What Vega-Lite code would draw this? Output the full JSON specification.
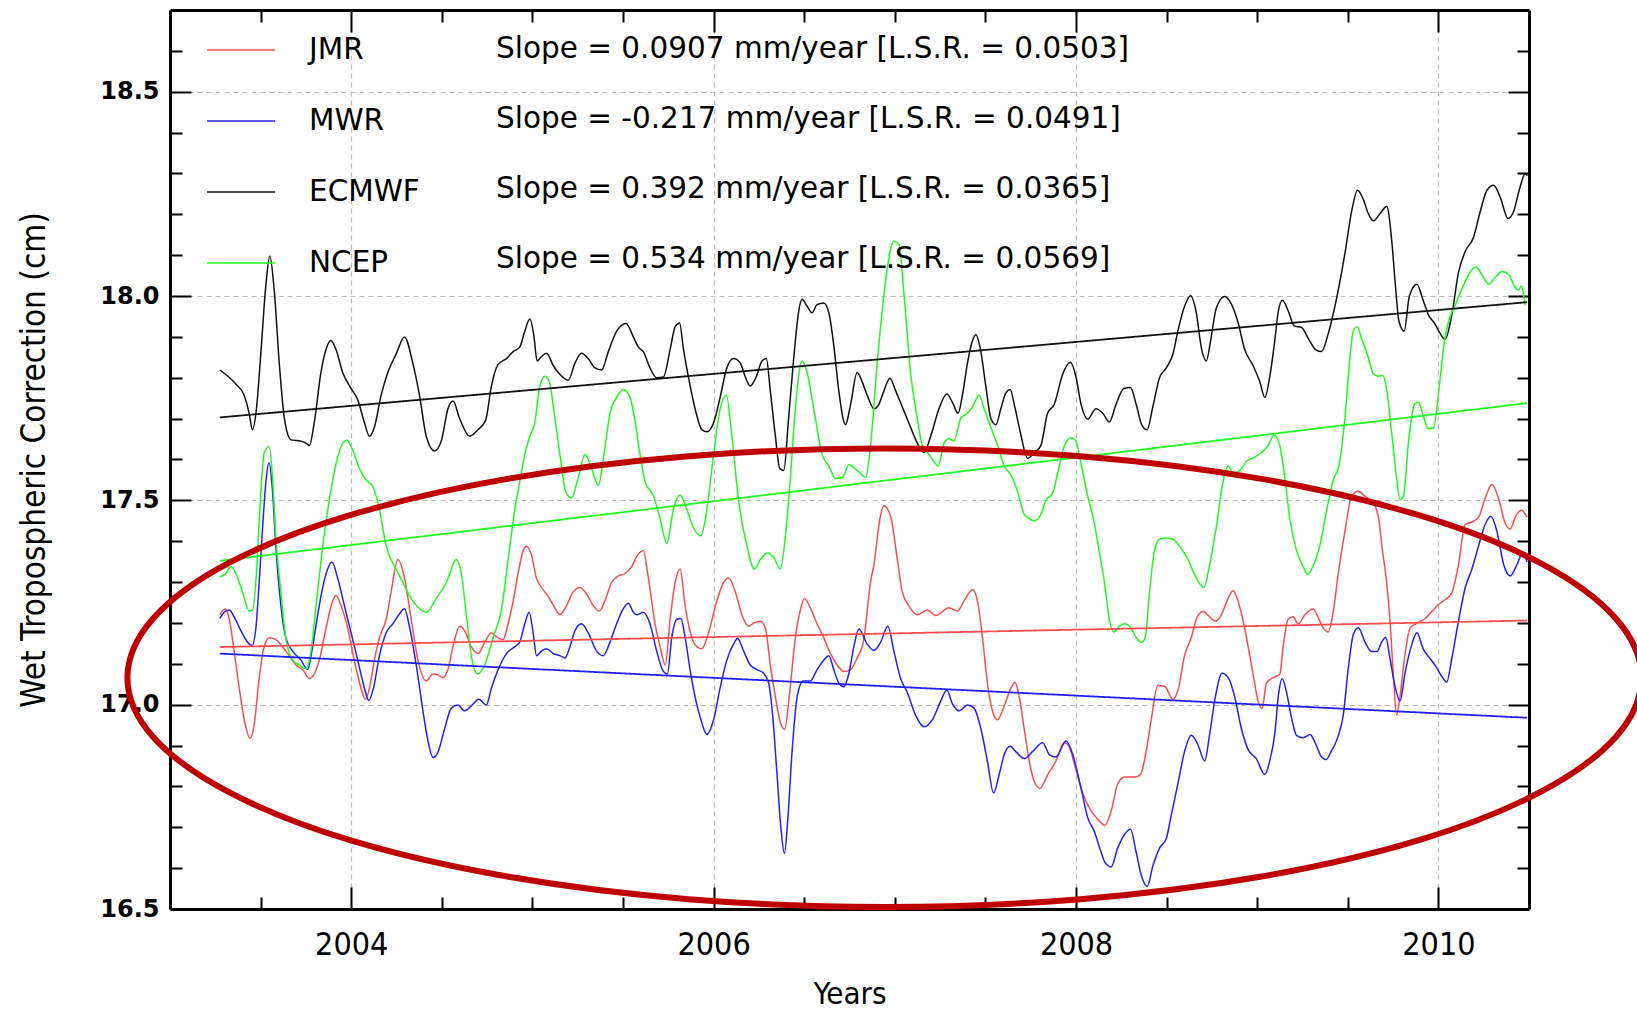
{
  "$schema": "https://vega.github.io/schema/vega-lite/v6.json",
  "width": 1359,
  "height": 899,
  "autosize": {"type": "none"},
  "padding": {"left": 170, "top": 10, "right": 108, "bottom": 100},
  "background": "white",
  "config": {
    "view": {"stroke": null},
    "font": "DejaVu Sans"
  },
  "datasets": {
    "series": [
      {"s":"JMR","t":2003.275,"v":17.220},{"s":"JMR","t":2003.305,"v":17.234},{"s":"JMR","t":2003.327,"v":17.209},{"s":"JMR","t":2003.354,"v":17.131},{"s":"JMR","t":2003.382,"v":17.041},{"s":"JMR","t":2003.415,"v":16.952},{"s":"JMR","t":2003.441,"v":16.918},{"s":"JMR","t":2003.465,"v":16.952},{"s":"JMR","t":2003.489,"v":17.053},{"s":"JMR","t":2003.514,"v":17.131},{"s":"JMR","t":2003.547,"v":17.164},{"s":"JMR","t":2003.584,"v":17.159},{"s":"JMR","t":2003.621,"v":17.142},{"s":"JMR","t":2003.658,"v":17.120},{"s":"JMR","t":2003.695,"v":17.097},{"s":"JMR","t":2003.732,"v":17.086},{"s":"JMR","t":2003.769,"v":17.064},{"s":"JMR","t":2003.796,"v":17.075},{"s":"JMR","t":2003.824,"v":17.109},{"s":"JMR","t":2003.861,"v":17.187},{"s":"JMR","t":2003.898,"v":17.254},{"s":"JMR","t":2003.916,"v":17.267},{"s":"JMR","t":2003.944,"v":17.242},{"s":"JMR","t":2003.981,"v":17.187},{"s":"JMR","t":2004.017,"v":17.109},{"s":"JMR","t":2004.054,"v":17.041},{"s":"JMR","t":2004.078,"v":17.013},{"s":"JMR","t":2004.101,"v":17.041},{"s":"JMR","t":2004.128,"v":17.109},{"s":"JMR","t":2004.156,"v":17.164},{"s":"JMR","t":2004.193,"v":17.209},{"s":"JMR","t":2004.220,"v":17.276},{"s":"JMR","t":2004.258,"v":17.355},{"s":"JMR","t":2004.294,"v":17.310},{"s":"JMR","t":2004.331,"v":17.209},{"s":"JMR","t":2004.368,"v":17.109},{"s":"JMR","t":2004.414,"v":17.058},{"s":"JMR","t":2004.451,"v":17.075},{"s":"JMR","t":2004.479,"v":17.073},{"s":"JMR","t":2004.506,"v":17.066},{"s":"JMR","t":2004.534,"v":17.086},{"s":"JMR","t":2004.562,"v":17.142},{"s":"JMR","t":2004.598,"v":17.192},{"s":"JMR","t":2004.626,"v":17.181},{"s":"JMR","t":2004.663,"v":17.142},{"s":"JMR","t":2004.700,"v":17.125},{"s":"JMR","t":2004.737,"v":17.153},{"s":"JMR","t":2004.774,"v":17.176},{"s":"JMR","t":2004.810,"v":17.164},{"s":"JMR","t":2004.838,"v":17.159},{"s":"JMR","t":2004.866,"v":17.198},{"s":"JMR","t":2004.894,"v":17.254},{"s":"JMR","t":2004.921,"v":17.321},{"s":"JMR","t":2004.949,"v":17.377},{"s":"JMR","t":2004.967,"v":17.388},{"s":"JMR","t":2004.995,"v":17.366},{"s":"JMR","t":2005.022,"v":17.310},{"s":"JMR","t":2005.050,"v":17.287},{"s":"JMR","t":2005.087,"v":17.265},{"s":"JMR","t":2005.124,"v":17.237},{"s":"JMR","t":2005.152,"v":17.220},{"s":"JMR","t":2005.188,"v":17.242},{"s":"JMR","t":2005.225,"v":17.276},{"s":"JMR","t":2005.262,"v":17.287},{"s":"JMR","t":2005.299,"v":17.271},{"s":"JMR","t":2005.336,"v":17.242},{"s":"JMR","t":2005.369,"v":17.229},{"s":"JMR","t":2005.400,"v":17.254},{"s":"JMR","t":2005.437,"v":17.299},{"s":"JMR","t":2005.474,"v":17.315},{"s":"JMR","t":2005.511,"v":17.321},{"s":"JMR","t":2005.548,"v":17.338},{"s":"JMR","t":2005.580,"v":17.366},{"s":"JMR","t":2005.612,"v":17.377},{"s":"JMR","t":2005.640,"v":17.310},{"s":"JMR","t":2005.677,"v":17.198},{"s":"JMR","t":2005.705,"v":17.142},{"s":"JMR","t":2005.733,"v":17.097},{"s":"JMR","t":2005.760,"v":17.209},{"s":"JMR","t":2005.788,"v":17.299},{"s":"JMR","t":2005.815,"v":17.332},{"s":"JMR","t":2005.843,"v":17.242},{"s":"JMR","t":2005.880,"v":17.164},{"s":"JMR","t":2005.907,"v":17.142},{"s":"JMR","t":2005.935,"v":17.137},{"s":"JMR","t":2005.972,"v":17.176},{"s":"JMR","t":2006.018,"v":17.254},{"s":"JMR","t":2006.055,"v":17.299},{"s":"JMR","t":2006.083,"v":17.310},{"s":"JMR","t":2006.120,"v":17.276},{"s":"JMR","t":2006.156,"v":17.220},{"s":"JMR","t":2006.193,"v":17.192},{"s":"JMR","t":2006.221,"v":17.200},{"s":"JMR","t":2006.258,"v":17.204},{"s":"JMR","t":2006.286,"v":17.187},{"s":"JMR","t":2006.313,"v":17.097},{"s":"JMR","t":2006.341,"v":17.019},{"s":"JMR","t":2006.368,"v":16.957},{"s":"JMR","t":2006.392,"v":16.940},{"s":"JMR","t":2006.420,"v":17.030},{"s":"JMR","t":2006.451,"v":17.164},{"s":"JMR","t":2006.479,"v":17.232},{"s":"JMR","t":2006.501,"v":17.260},{"s":"JMR","t":2006.534,"v":17.237},{"s":"JMR","t":2006.571,"v":17.198},{"s":"JMR","t":2006.608,"v":17.164},{"s":"JMR","t":2006.645,"v":17.125},{"s":"JMR","t":2006.682,"v":17.097},{"s":"JMR","t":2006.719,"v":17.081},{"s":"JMR","t":2006.756,"v":17.086},{"s":"JMR","t":2006.792,"v":17.114},{"s":"JMR","t":2006.829,"v":17.160},{"s":"JMR","t":2006.866,"v":17.300},{"s":"JMR","t":2006.885,"v":17.343},{"s":"JMR","t":2006.918,"v":17.455},{"s":"JMR","t":2006.940,"v":17.487},{"s":"JMR","t":2006.977,"v":17.461},{"s":"JMR","t":2007.014,"v":17.355},{"s":"JMR","t":2007.041,"v":17.276},{"s":"JMR","t":2007.078,"v":17.242},{"s":"JMR","t":2007.124,"v":17.220},{"s":"JMR","t":2007.180,"v":17.232},{"s":"JMR","t":2007.226,"v":17.218},{"s":"JMR","t":2007.299,"v":17.237},{"s":"JMR","t":2007.346,"v":17.229},{"s":"JMR","t":2007.382,"v":17.254},{"s":"JMR","t":2007.429,"v":17.282},{"s":"JMR","t":2007.456,"v":17.254},{"s":"JMR","t":2007.484,"v":17.164},{"s":"JMR","t":2007.511,"v":17.053},{"s":"JMR","t":2007.539,"v":16.985},{"s":"JMR","t":2007.567,"v":16.963},{"s":"JMR","t":2007.604,"v":16.997},{"s":"JMR","t":2007.641,"v":17.041},{"s":"JMR","t":2007.663,"v":17.055},{"s":"JMR","t":2007.687,"v":17.019},{"s":"JMR","t":2007.714,"v":16.941},{"s":"JMR","t":2007.742,"v":16.862},{"s":"JMR","t":2007.770,"v":16.811},{"s":"JMR","t":2007.801,"v":16.795},{"s":"JMR","t":2007.843,"v":16.828},{"s":"JMR","t":2007.889,"v":16.862},{"s":"JMR","t":2007.936,"v":16.907},{"s":"JMR","t":2007.963,"v":16.896},{"s":"JMR","t":2008.000,"v":16.840},{"s":"JMR","t":2008.037,"v":16.784},{"s":"JMR","t":2008.083,"v":16.740},{"s":"JMR","t":2008.120,"v":16.720},{"s":"JMR","t":2008.160,"v":16.705},{"s":"JMR","t":2008.194,"v":16.740},{"s":"JMR","t":2008.230,"v":16.806},{"s":"JMR","t":2008.267,"v":16.823},{"s":"JMR","t":2008.323,"v":16.823},{"s":"JMR","t":2008.356,"v":16.829},{"s":"JMR","t":2008.387,"v":16.885},{"s":"JMR","t":2008.415,"v":16.963},{"s":"JMR","t":2008.452,"v":17.047},{"s":"JMR","t":2008.489,"v":17.045},{"s":"JMR","t":2008.535,"v":17.013},{"s":"JMR","t":2008.566,"v":17.041},{"s":"JMR","t":2008.599,"v":17.120},{"s":"JMR","t":2008.636,"v":17.164},{"s":"JMR","t":2008.669,"v":17.215},{"s":"JMR","t":2008.701,"v":17.228},{"s":"JMR","t":2008.738,"v":17.215},{"s":"JMR","t":2008.769,"v":17.204},{"s":"JMR","t":2008.802,"v":17.220},{"s":"JMR","t":2008.839,"v":17.260},{"s":"JMR","t":2008.867,"v":17.279},{"s":"JMR","t":2008.894,"v":17.254},{"s":"JMR","t":2008.931,"v":17.187},{"s":"JMR","t":2008.959,"v":17.120},{"s":"JMR","t":2008.986,"v":17.053},{"s":"JMR","t":2009.005,"v":17.008},{"s":"JMR","t":2009.027,"v":16.991},{"s":"JMR","t":2009.051,"v":17.053},{"s":"JMR","t":2009.088,"v":17.066},{"s":"JMR","t":2009.125,"v":17.075},{"s":"JMR","t":2009.143,"v":17.142},{"s":"JMR","t":2009.171,"v":17.209},{"s":"JMR","t":2009.198,"v":17.215},{"s":"JMR","t":2009.226,"v":17.198},{"s":"JMR","t":2009.263,"v":17.220},{"s":"JMR","t":2009.309,"v":17.234},{"s":"JMR","t":2009.337,"v":17.213},{"s":"JMR","t":2009.364,"v":17.188},{"s":"JMR","t":2009.392,"v":17.178},{"s":"JMR","t":2009.420,"v":17.228},{"s":"JMR","t":2009.447,"v":17.320},{"s":"JMR","t":2009.484,"v":17.424},{"s":"JMR","t":2009.521,"v":17.510},{"s":"JMR","t":2009.558,"v":17.522},{"s":"JMR","t":2009.595,"v":17.510},{"s":"JMR","t":2009.641,"v":17.493},{"s":"JMR","t":2009.669,"v":17.459},{"s":"JMR","t":2009.691,"v":17.378},{"s":"JMR","t":2009.715,"v":17.297},{"s":"JMR","t":2009.733,"v":17.205},{"s":"JMR","t":2009.752,"v":17.067},{"s":"JMR","t":2009.770,"v":16.975},{"s":"JMR","t":2009.788,"v":17.021},{"s":"JMR","t":2009.816,"v":17.124},{"s":"JMR","t":2009.844,"v":17.188},{"s":"JMR","t":2009.881,"v":17.199},{"s":"JMR","t":2009.927,"v":17.211},{"s":"JMR","t":2009.964,"v":17.228},{"s":"JMR","t":2010.000,"v":17.245},{"s":"JMR","t":2010.037,"v":17.257},{"s":"JMR","t":2010.074,"v":17.274},{"s":"JMR","t":2010.111,"v":17.343},{"s":"JMR","t":2010.148,"v":17.441},{"s":"JMR","t":2010.185,"v":17.447},{"s":"JMR","t":2010.222,"v":17.459},{"s":"JMR","t":2010.258,"v":17.505},{"s":"JMR","t":2010.295,"v":17.539},{"s":"JMR","t":2010.332,"v":17.505},{"s":"JMR","t":2010.366,"v":17.447},{"s":"JMR","t":2010.397,"v":17.430},{"s":"JMR","t":2010.424,"v":17.459},{"s":"JMR","t":2010.458,"v":17.476},{"s":"JMR","t":2010.489,"v":17.459},
      {"s":"MWR","t":2003.275,"v":17.211},{"s":"MWR","t":2003.299,"v":17.226},{"s":"MWR","t":2003.327,"v":17.232},{"s":"MWR","t":2003.354,"v":17.215},{"s":"MWR","t":2003.391,"v":17.181},{"s":"MWR","t":2003.428,"v":17.153},{"s":"MWR","t":2003.452,"v":17.144},{"s":"MWR","t":2003.474,"v":17.187},{"s":"MWR","t":2003.492,"v":17.299},{"s":"MWR","t":2003.511,"v":17.433},{"s":"MWR","t":2003.529,"v":17.545},{"s":"MWR","t":2003.547,"v":17.592},{"s":"MWR","t":2003.566,"v":17.522},{"s":"MWR","t":2003.584,"v":17.388},{"s":"MWR","t":2003.612,"v":17.243},{"s":"MWR","t":2003.639,"v":17.164},{"s":"MWR","t":2003.677,"v":17.131},{"s":"MWR","t":2003.723,"v":17.109},{"s":"MWR","t":2003.759,"v":17.086},{"s":"MWR","t":2003.787,"v":17.142},{"s":"MWR","t":2003.815,"v":17.220},{"s":"MWR","t":2003.843,"v":17.287},{"s":"MWR","t":2003.870,"v":17.332},{"s":"MWR","t":2003.894,"v":17.349},{"s":"MWR","t":2003.925,"v":17.310},{"s":"MWR","t":2003.962,"v":17.243},{"s":"MWR","t":2003.999,"v":17.176},{"s":"MWR","t":2004.036,"v":17.109},{"s":"MWR","t":2004.073,"v":17.041},{"s":"MWR","t":2004.097,"v":17.010},{"s":"MWR","t":2004.123,"v":17.041},{"s":"MWR","t":2004.156,"v":17.120},{"s":"MWR","t":2004.193,"v":17.176},{"s":"MWR","t":2004.230,"v":17.198},{"s":"MWR","t":2004.263,"v":17.220},{"s":"MWR","t":2004.294,"v":17.235},{"s":"MWR","t":2004.322,"v":17.190},{"s":"MWR","t":2004.359,"v":17.097},{"s":"MWR","t":2004.396,"v":16.985},{"s":"MWR","t":2004.423,"v":16.913},{"s":"MWR","t":2004.451,"v":16.871},{"s":"MWR","t":2004.479,"v":16.884},{"s":"MWR","t":2004.515,"v":16.940},{"s":"MWR","t":2004.552,"v":16.991},{"s":"MWR","t":2004.589,"v":16.999},{"s":"MWR","t":2004.626,"v":16.985},{"s":"MWR","t":2004.663,"v":16.997},{"s":"MWR","t":2004.705,"v":17.013},{"s":"MWR","t":2004.746,"v":16.999},{"s":"MWR","t":2004.774,"v":17.041},{"s":"MWR","t":2004.811,"v":17.086},{"s":"MWR","t":2004.857,"v":17.125},{"s":"MWR","t":2004.903,"v":17.142},{"s":"MWR","t":2004.930,"v":17.153},{"s":"MWR","t":2004.958,"v":17.198},{"s":"MWR","t":2004.982,"v":17.226},{"s":"MWR","t":2005.004,"v":17.176},{"s":"MWR","t":2005.023,"v":17.120},{"s":"MWR","t":2005.050,"v":17.131},{"s":"MWR","t":2005.078,"v":17.137},{"s":"MWR","t":2005.115,"v":17.125},{"s":"MWR","t":2005.152,"v":17.120},{"s":"MWR","t":2005.179,"v":17.114},{"s":"MWR","t":2005.207,"v":17.142},{"s":"MWR","t":2005.235,"v":17.181},{"s":"MWR","t":2005.271,"v":17.198},{"s":"MWR","t":2005.308,"v":17.176},{"s":"MWR","t":2005.354,"v":17.131},{"s":"MWR","t":2005.391,"v":17.120},{"s":"MWR","t":2005.428,"v":17.153},{"s":"MWR","t":2005.465,"v":17.198},{"s":"MWR","t":2005.498,"v":17.232},{"s":"MWR","t":2005.530,"v":17.248},{"s":"MWR","t":2005.557,"v":17.226},{"s":"MWR","t":2005.576,"v":17.220},{"s":"MWR","t":2005.612,"v":17.226},{"s":"MWR","t":2005.649,"v":17.198},{"s":"MWR","t":2005.686,"v":17.131},{"s":"MWR","t":2005.723,"v":17.081},{"s":"MWR","t":2005.745,"v":17.075},{"s":"MWR","t":2005.769,"v":17.164},{"s":"MWR","t":2005.797,"v":17.209},{"s":"MWR","t":2005.819,"v":17.211},{"s":"MWR","t":2005.843,"v":17.164},{"s":"MWR","t":2005.870,"v":17.086},{"s":"MWR","t":2005.898,"v":17.019},{"s":"MWR","t":2005.930,"v":16.963},{"s":"MWR","t":2005.963,"v":16.927},{"s":"MWR","t":2006.000,"v":16.963},{"s":"MWR","t":2006.036,"v":17.041},{"s":"MWR","t":2006.073,"v":17.109},{"s":"MWR","t":2006.110,"v":17.148},{"s":"MWR","t":2006.132,"v":17.162},{"s":"MWR","t":2006.166,"v":17.131},{"s":"MWR","t":2006.202,"v":17.097},{"s":"MWR","t":2006.239,"v":17.086},{"s":"MWR","t":2006.276,"v":17.077},{"s":"MWR","t":2006.304,"v":17.053},{"s":"MWR","t":2006.328,"v":16.963},{"s":"MWR","t":2006.350,"v":16.829},{"s":"MWR","t":2006.372,"v":16.695},{"s":"MWR","t":2006.391,"v":16.636},{"s":"MWR","t":2006.409,"v":16.717},{"s":"MWR","t":2006.433,"v":16.885},{"s":"MWR","t":2006.461,"v":17.019},{"s":"MWR","t":2006.494,"v":17.058},{"s":"MWR","t":2006.534,"v":17.058},{"s":"MWR","t":2006.571,"v":17.086},{"s":"MWR","t":2006.608,"v":17.109},{"s":"MWR","t":2006.636,"v":17.120},{"s":"MWR","t":2006.663,"v":17.086},{"s":"MWR","t":2006.691,"v":17.053},{"s":"MWR","t":2006.719,"v":17.044},{"s":"MWR","t":2006.746,"v":17.075},{"s":"MWR","t":2006.774,"v":17.142},{"s":"MWR","t":2006.802,"v":17.185},{"s":"MWR","t":2006.848,"v":17.148},{"s":"MWR","t":2006.885,"v":17.133},{"s":"MWR","t":2006.922,"v":17.153},{"s":"MWR","t":2006.962,"v":17.192},{"s":"MWR","t":2006.995,"v":17.131},{"s":"MWR","t":2007.032,"v":17.064},{"s":"MWR","t":2007.069,"v":17.030},{"s":"MWR","t":2007.115,"v":16.974},{"s":"MWR","t":2007.161,"v":16.946},{"s":"MWR","t":2007.207,"v":16.963},{"s":"MWR","t":2007.253,"v":17.008},{"s":"MWR","t":2007.287,"v":17.036},{"s":"MWR","t":2007.318,"v":17.002},{"s":"MWR","t":2007.355,"v":16.985},{"s":"MWR","t":2007.401,"v":16.999},{"s":"MWR","t":2007.438,"v":16.991},{"s":"MWR","t":2007.475,"v":16.941},{"s":"MWR","t":2007.511,"v":16.862},{"s":"MWR","t":2007.545,"v":16.784},{"s":"MWR","t":2007.576,"v":16.829},{"s":"MWR","t":2007.604,"v":16.878},{"s":"MWR","t":2007.637,"v":16.898},{"s":"MWR","t":2007.668,"v":16.885},{"s":"MWR","t":2007.714,"v":16.868},{"s":"MWR","t":2007.760,"v":16.885},{"s":"MWR","t":2007.816,"v":16.907},{"s":"MWR","t":2007.853,"v":16.878},{"s":"MWR","t":2007.889,"v":16.872},{"s":"MWR","t":2007.945,"v":16.911},{"s":"MWR","t":2007.982,"v":16.878},{"s":"MWR","t":2008.028,"v":16.795},{"s":"MWR","t":2008.065,"v":16.723},{"s":"MWR","t":2008.101,"v":16.690},{"s":"MWR","t":2008.138,"v":16.640},{"s":"MWR","t":2008.160,"v":16.614},{"s":"MWR","t":2008.194,"v":16.603},{"s":"MWR","t":2008.230,"v":16.649},{"s":"MWR","t":2008.267,"v":16.682},{"s":"MWR","t":2008.301,"v":16.695},{"s":"MWR","t":2008.332,"v":16.639},{"s":"MWR","t":2008.360,"v":16.583},{"s":"MWR","t":2008.393,"v":16.555},{"s":"MWR","t":2008.424,"v":16.605},{"s":"MWR","t":2008.461,"v":16.649},{"s":"MWR","t":2008.498,"v":16.672},{"s":"MWR","t":2008.525,"v":16.728},{"s":"MWR","t":2008.562,"v":16.806},{"s":"MWR","t":2008.599,"v":16.885},{"s":"MWR","t":2008.636,"v":16.925},{"s":"MWR","t":2008.673,"v":16.902},{"s":"MWR","t":2008.710,"v":16.862},{"s":"MWR","t":2008.738,"v":16.929},{"s":"MWR","t":2008.769,"v":17.019},{"s":"MWR","t":2008.806,"v":17.077},{"s":"MWR","t":2008.843,"v":17.064},{"s":"MWR","t":2008.876,"v":17.019},{"s":"MWR","t":2008.913,"v":16.941},{"s":"MWR","t":2008.950,"v":16.890},{"s":"MWR","t":2008.995,"v":16.868},{"s":"MWR","t":2009.042,"v":16.829},{"s":"MWR","t":2009.069,"v":16.862},{"s":"MWR","t":2009.097,"v":16.929},{"s":"MWR","t":2009.119,"v":17.030},{"s":"MWR","t":2009.138,"v":17.064},{"s":"MWR","t":2009.162,"v":17.030},{"s":"MWR","t":2009.189,"v":16.969},{"s":"MWR","t":2009.217,"v":16.925},{"s":"MWR","t":2009.254,"v":16.919},{"s":"MWR","t":2009.291,"v":16.927},{"s":"MWR","t":2009.322,"v":16.905},{"s":"MWR","t":2009.355,"v":16.872},{"s":"MWR","t":2009.380,"v":16.866},{"s":"MWR","t":2009.411,"v":16.888},{"s":"MWR","t":2009.447,"v":16.923},{"s":"MWR","t":2009.475,"v":16.975},{"s":"MWR","t":2009.503,"v":17.090},{"s":"MWR","t":2009.530,"v":17.171},{"s":"MWR","t":2009.558,"v":17.188},{"s":"MWR","t":2009.595,"v":17.153},{"s":"MWR","t":2009.632,"v":17.130},{"s":"MWR","t":2009.660,"v":17.130},{"s":"MWR","t":2009.687,"v":17.153},{"s":"MWR","t":2009.709,"v":17.165},{"s":"MWR","t":2009.733,"v":17.113},{"s":"MWR","t":2009.761,"v":17.044},{"s":"MWR","t":2009.788,"v":17.009},{"s":"MWR","t":2009.816,"v":17.078},{"s":"MWR","t":2009.853,"v":17.147},{"s":"MWR","t":2009.881,"v":17.176},{"s":"MWR","t":2009.917,"v":17.136},{"s":"MWR","t":2009.954,"v":17.113},{"s":"MWR","t":2009.991,"v":17.090},{"s":"MWR","t":2010.022,"v":17.067},{"s":"MWR","t":2010.046,"v":17.055},{"s":"MWR","t":2010.074,"v":17.113},{"s":"MWR","t":2010.111,"v":17.205},{"s":"MWR","t":2010.148,"v":17.286},{"s":"MWR","t":2010.185,"v":17.332},{"s":"MWR","t":2010.222,"v":17.389},{"s":"MWR","t":2010.258,"v":17.441},{"s":"MWR","t":2010.290,"v":17.461},{"s":"MWR","t":2010.323,"v":17.424},{"s":"MWR","t":2010.360,"v":17.343},{"s":"MWR","t":2010.397,"v":17.315},{"s":"MWR","t":2010.434,"v":17.343},{"s":"MWR","t":2010.465,"v":17.372},{"s":"MWR","t":2010.489,"v":17.349},
      {"s":"ECMWF","t":2003.275,"v":17.819},{"s":"ECMWF","t":2003.308,"v":17.808},{"s":"ECMWF","t":2003.363,"v":17.785},{"s":"ECMWF","t":2003.409,"v":17.757},{"s":"ECMWF","t":2003.437,"v":17.713},{"s":"ECMWF","t":2003.455,"v":17.673},{"s":"ECMWF","t":2003.477,"v":17.724},{"s":"ECMWF","t":2003.501,"v":17.858},{"s":"ECMWF","t":2003.529,"v":18.026},{"s":"ECMWF","t":2003.551,"v":18.098},{"s":"ECMWF","t":2003.575,"v":18.015},{"s":"ECMWF","t":2003.603,"v":17.836},{"s":"ECMWF","t":2003.631,"v":17.701},{"s":"ECMWF","t":2003.668,"v":17.648},{"s":"ECMWF","t":2003.723,"v":17.645},{"s":"ECMWF","t":2003.750,"v":17.640},{"s":"ECMWF","t":2003.769,"v":17.634},{"s":"ECMWF","t":2003.796,"v":17.690},{"s":"ECMWF","t":2003.833,"v":17.813},{"s":"ECMWF","t":2003.861,"v":17.869},{"s":"ECMWF","t":2003.888,"v":17.891},{"s":"ECMWF","t":2003.916,"v":17.869},{"s":"ECMWF","t":2003.953,"v":17.813},{"s":"ECMWF","t":2003.999,"v":17.774},{"s":"ECMWF","t":2004.036,"v":17.746},{"s":"ECMWF","t":2004.073,"v":17.690},{"s":"ECMWF","t":2004.101,"v":17.657},{"s":"ECMWF","t":2004.128,"v":17.679},{"s":"ECMWF","t":2004.165,"v":17.757},{"s":"ECMWF","t":2004.202,"v":17.813},{"s":"ECMWF","t":2004.248,"v":17.858},{"s":"ECMWF","t":2004.294,"v":17.900},{"s":"ECMWF","t":2004.340,"v":17.836},{"s":"ECMWF","t":2004.377,"v":17.757},{"s":"ECMWF","t":2004.414,"v":17.657},{"s":"ECMWF","t":2004.460,"v":17.621},{"s":"ECMWF","t":2004.497,"v":17.645},{"s":"ECMWF","t":2004.534,"v":17.724},{"s":"ECMWF","t":2004.562,"v":17.743},{"s":"ECMWF","t":2004.598,"v":17.701},{"s":"ECMWF","t":2004.654,"v":17.657},{"s":"ECMWF","t":2004.700,"v":17.673},{"s":"ECMWF","t":2004.742,"v":17.696},{"s":"ECMWF","t":2004.774,"v":17.780},{"s":"ECMWF","t":2004.810,"v":17.832},{"s":"ECMWF","t":2004.857,"v":17.847},{"s":"ECMWF","t":2004.894,"v":17.864},{"s":"ECMWF","t":2004.930,"v":17.875},{"s":"ECMWF","t":2004.958,"v":17.914},{"s":"ECMWF","t":2004.986,"v":17.944},{"s":"ECMWF","t":2005.008,"v":17.903},{"s":"ECMWF","t":2005.026,"v":17.841},{"s":"ECMWF","t":2005.050,"v":17.852},{"s":"ECMWF","t":2005.078,"v":17.860},{"s":"ECMWF","t":2005.115,"v":17.830},{"s":"ECMWF","t":2005.152,"v":17.808},{"s":"ECMWF","t":2005.198,"v":17.794},{"s":"ECMWF","t":2005.235,"v":17.836},{"s":"ECMWF","t":2005.271,"v":17.860},{"s":"ECMWF","t":2005.308,"v":17.847},{"s":"ECMWF","t":2005.345,"v":17.824},{"s":"ECMWF","t":2005.382,"v":17.819},{"s":"ECMWF","t":2005.419,"v":17.864},{"s":"ECMWF","t":2005.465,"v":17.914},{"s":"ECMWF","t":2005.517,"v":17.933},{"s":"ECMWF","t":2005.557,"v":17.900},{"s":"ECMWF","t":2005.585,"v":17.875},{"s":"ECMWF","t":2005.612,"v":17.864},{"s":"ECMWF","t":2005.649,"v":17.824},{"s":"ECMWF","t":2005.686,"v":17.800},{"s":"ECMWF","t":2005.723,"v":17.802},{"s":"ECMWF","t":2005.760,"v":17.869},{"s":"ECMWF","t":2005.788,"v":17.925},{"s":"ECMWF","t":2005.812,"v":17.934},{"s":"ECMWF","t":2005.834,"v":17.869},{"s":"ECMWF","t":2005.861,"v":17.802},{"s":"ECMWF","t":2005.898,"v":17.724},{"s":"ECMWF","t":2005.935,"v":17.673},{"s":"ECMWF","t":2005.963,"v":17.668},{"s":"ECMWF","t":2006.000,"v":17.690},{"s":"ECMWF","t":2006.036,"v":17.752},{"s":"ECMWF","t":2006.073,"v":17.824},{"s":"ECMWF","t":2006.110,"v":17.847},{"s":"ECMWF","t":2006.147,"v":17.836},{"s":"ECMWF","t":2006.175,"v":17.802},{"s":"ECMWF","t":2006.202,"v":17.780},{"s":"ECMWF","t":2006.235,"v":17.802},{"s":"ECMWF","t":2006.267,"v":17.841},{"s":"ECMWF","t":2006.291,"v":17.847},{"s":"ECMWF","t":2006.313,"v":17.768},{"s":"ECMWF","t":2006.341,"v":17.657},{"s":"ECMWF","t":2006.365,"v":17.578},{"s":"ECMWF","t":2006.387,"v":17.573},{"s":"ECMWF","t":2006.414,"v":17.701},{"s":"ECMWF","t":2006.442,"v":17.847},{"s":"ECMWF","t":2006.470,"v":17.964},{"s":"ECMWF","t":2006.488,"v":17.992},{"s":"ECMWF","t":2006.516,"v":17.975},{"s":"ECMWF","t":2006.543,"v":17.959},{"s":"ECMWF","t":2006.571,"v":17.979},{"s":"ECMWF","t":2006.608,"v":17.983},{"s":"ECMWF","t":2006.636,"v":17.959},{"s":"ECMWF","t":2006.663,"v":17.880},{"s":"ECMWF","t":2006.691,"v":17.768},{"s":"ECMWF","t":2006.728,"v":17.685},{"s":"ECMWF","t":2006.756,"v":17.735},{"s":"ECMWF","t":2006.792,"v":17.813},{"s":"ECMWF","t":2006.820,"v":17.790},{"s":"ECMWF","t":2006.848,"v":17.757},{"s":"ECMWF","t":2006.885,"v":17.724},{"s":"ECMWF","t":2006.912,"v":17.735},{"s":"ECMWF","t":2006.940,"v":17.768},{"s":"ECMWF","t":2006.973,"v":17.799},{"s":"ECMWF","t":2007.005,"v":17.768},{"s":"ECMWF","t":2007.041,"v":17.729},{"s":"ECMWF","t":2007.087,"v":17.679},{"s":"ECMWF","t":2007.124,"v":17.640},{"s":"ECMWF","t":2007.161,"v":17.617},{"s":"ECMWF","t":2007.198,"v":17.657},{"s":"ECMWF","t":2007.244,"v":17.724},{"s":"ECMWF","t":2007.287,"v":17.760},{"s":"ECMWF","t":2007.318,"v":17.740},{"s":"ECMWF","t":2007.349,"v":17.713},{"s":"ECMWF","t":2007.373,"v":17.757},{"s":"ECMWF","t":2007.401,"v":17.836},{"s":"ECMWF","t":2007.429,"v":17.891},{"s":"ECMWF","t":2007.447,"v":17.905},{"s":"ECMWF","t":2007.475,"v":17.864},{"s":"ECMWF","t":2007.502,"v":17.780},{"s":"ECMWF","t":2007.530,"v":17.701},{"s":"ECMWF","t":2007.558,"v":17.685},{"s":"ECMWF","t":2007.585,"v":17.724},{"s":"ECMWF","t":2007.613,"v":17.763},{"s":"ECMWF","t":2007.637,"v":17.771},{"s":"ECMWF","t":2007.659,"v":17.735},{"s":"ECMWF","t":2007.692,"v":17.668},{"s":"ECMWF","t":2007.733,"v":17.603},{"s":"ECMWF","t":2007.770,"v":17.617},{"s":"ECMWF","t":2007.806,"v":17.634},{"s":"ECMWF","t":2007.843,"v":17.713},{"s":"ECMWF","t":2007.880,"v":17.735},{"s":"ECMWF","t":2007.926,"v":17.808},{"s":"ECMWF","t":2007.969,"v":17.838},{"s":"ECMWF","t":2008.000,"v":17.802},{"s":"ECMWF","t":2008.028,"v":17.735},{"s":"ECMWF","t":2008.065,"v":17.699},{"s":"ECMWF","t":2008.110,"v":17.724},{"s":"ECMWF","t":2008.148,"v":17.713},{"s":"ECMWF","t":2008.184,"v":17.692},{"s":"ECMWF","t":2008.221,"v":17.735},{"s":"ECMWF","t":2008.264,"v":17.774},{"s":"ECMWF","t":2008.301,"v":17.776},{"s":"ECMWF","t":2008.332,"v":17.735},{"s":"ECMWF","t":2008.363,"v":17.685},{"s":"ECMWF","t":2008.393,"v":17.673},{"s":"ECMWF","t":2008.424,"v":17.729},{"s":"ECMWF","t":2008.461,"v":17.800},{"s":"ECMWF","t":2008.498,"v":17.824},{"s":"ECMWF","t":2008.535,"v":17.858},{"s":"ECMWF","t":2008.562,"v":17.914},{"s":"ECMWF","t":2008.599,"v":17.975},{"s":"ECMWF","t":2008.632,"v":18.001},{"s":"ECMWF","t":2008.664,"v":17.959},{"s":"ECMWF","t":2008.691,"v":17.875},{"s":"ECMWF","t":2008.719,"v":17.841},{"s":"ECMWF","t":2008.743,"v":17.891},{"s":"ECMWF","t":2008.774,"v":17.970},{"s":"ECMWF","t":2008.820,"v":17.999},{"s":"ECMWF","t":2008.857,"v":17.981},{"s":"ECMWF","t":2008.894,"v":17.936},{"s":"ECMWF","t":2008.931,"v":17.869},{"s":"ECMWF","t":2008.977,"v":17.830},{"s":"ECMWF","t":2009.014,"v":17.791},{"s":"ECMWF","t":2009.042,"v":17.752},{"s":"ECMWF","t":2009.069,"v":17.802},{"s":"ECMWF","t":2009.097,"v":17.891},{"s":"ECMWF","t":2009.115,"v":17.959},{"s":"ECMWF","t":2009.139,"v":17.990},{"s":"ECMWF","t":2009.171,"v":17.964},{"s":"ECMWF","t":2009.204,"v":17.927},{"s":"ECMWF","t":2009.245,"v":17.923},{"s":"ECMWF","t":2009.281,"v":17.897},{"s":"ECMWF","t":2009.322,"v":17.869},{"s":"ECMWF","t":2009.355,"v":17.864},{"s":"ECMWF","t":2009.392,"v":17.908},{"s":"ECMWF","t":2009.438,"v":17.994},{"s":"ECMWF","t":2009.484,"v":18.104},{"s":"ECMWF","t":2009.521,"v":18.207},{"s":"ECMWF","t":2009.554,"v":18.259},{"s":"ECMWF","t":2009.586,"v":18.236},{"s":"ECMWF","t":2009.613,"v":18.202},{"s":"ECMWF","t":2009.641,"v":18.184},{"s":"ECMWF","t":2009.678,"v":18.202},{"s":"ECMWF","t":2009.715,"v":18.219},{"s":"ECMWF","t":2009.742,"v":18.138},{"s":"ECMWF","t":2009.761,"v":18.035},{"s":"ECMWF","t":2009.783,"v":17.937},{"s":"ECMWF","t":2009.811,"v":17.914},{"s":"ECMWF","t":2009.840,"v":18.000},{"s":"ECMWF","t":2009.881,"v":18.029},{"s":"ECMWF","t":2009.917,"v":17.988},{"s":"ECMWF","t":2009.945,"v":17.954},{"s":"ECMWF","t":2009.982,"v":17.931},{"s":"ECMWF","t":2010.010,"v":17.908},{"s":"ECMWF","t":2010.037,"v":17.894},{"s":"ECMWF","t":2010.074,"v":17.954},{"s":"ECMWF","t":2010.111,"v":18.058},{"s":"ECMWF","t":2010.148,"v":18.109},{"s":"ECMWF","t":2010.194,"v":18.144},{"s":"ECMWF","t":2010.231,"v":18.207},{"s":"ECMWF","t":2010.268,"v":18.259},{"s":"ECMWF","t":2010.305,"v":18.271},{"s":"ECMWF","t":2010.341,"v":18.242},{"s":"ECMWF","t":2010.384,"v":18.190},{"s":"ECMWF","t":2010.415,"v":18.207},{"s":"ECMWF","t":2010.446,"v":18.259},{"s":"ECMWF","t":2010.480,"v":18.300},{"s":"ECMWF","t":2010.490,"v":18.294},
      {"s":"NCEP","t":2003.275,"v":17.312},{"s":"NCEP","t":2003.308,"v":17.321},{"s":"NCEP","t":2003.336,"v":17.338},{"s":"NCEP","t":2003.363,"v":17.321},{"s":"NCEP","t":2003.400,"v":17.276},{"s":"NCEP","t":2003.437,"v":17.229},{"s":"NCEP","t":2003.455,"v":17.231},{"s":"NCEP","t":2003.477,"v":17.321},{"s":"NCEP","t":2003.496,"v":17.478},{"s":"NCEP","t":2003.520,"v":17.617},{"s":"NCEP","t":2003.547,"v":17.632},{"s":"NCEP","t":2003.566,"v":17.556},{"s":"NCEP","t":2003.584,"v":17.411},{"s":"NCEP","t":2003.612,"v":17.276},{"s":"NCEP","t":2003.639,"v":17.164},{"s":"NCEP","t":2003.677,"v":17.109},{"s":"NCEP","t":2003.714,"v":17.097},{"s":"NCEP","t":2003.750,"v":17.088},{"s":"NCEP","t":2003.778,"v":17.131},{"s":"NCEP","t":2003.806,"v":17.242},{"s":"NCEP","t":2003.843,"v":17.388},{"s":"NCEP","t":2003.879,"v":17.500},{"s":"NCEP","t":2003.916,"v":17.589},{"s":"NCEP","t":2003.953,"v":17.640},{"s":"NCEP","t":2003.975,"v":17.648},{"s":"NCEP","t":2004.008,"v":17.623},{"s":"NCEP","t":2004.045,"v":17.578},{"s":"NCEP","t":2004.082,"v":17.550},{"s":"NCEP","t":2004.119,"v":17.534},{"s":"NCEP","t":2004.156,"v":17.478},{"s":"NCEP","t":2004.193,"v":17.388},{"s":"NCEP","t":2004.248,"v":17.332},{"s":"NCEP","t":2004.285,"v":17.299},{"s":"NCEP","t":2004.340,"v":17.254},{"s":"NCEP","t":2004.414,"v":17.226},{"s":"NCEP","t":2004.469,"v":17.260},{"s":"NCEP","t":2004.525,"v":17.299},{"s":"NCEP","t":2004.580,"v":17.355},{"s":"NCEP","t":2004.608,"v":17.321},{"s":"NCEP","t":2004.635,"v":17.220},{"s":"NCEP","t":2004.663,"v":17.120},{"s":"NCEP","t":2004.696,"v":17.075},{"s":"NCEP","t":2004.737,"v":17.097},{"s":"NCEP","t":2004.783,"v":17.164},{"s":"NCEP","t":2004.829,"v":17.232},{"s":"NCEP","t":2004.866,"v":17.355},{"s":"NCEP","t":2004.903,"v":17.478},{"s":"NCEP","t":2004.930,"v":17.545},{"s":"NCEP","t":2004.958,"v":17.612},{"s":"NCEP","t":2004.986,"v":17.657},{"s":"NCEP","t":2005.013,"v":17.690},{"s":"NCEP","t":2005.041,"v":17.780},{"s":"NCEP","t":2005.069,"v":17.804},{"s":"NCEP","t":2005.093,"v":17.791},{"s":"NCEP","t":2005.124,"v":17.701},{"s":"NCEP","t":2005.152,"v":17.612},{"s":"NCEP","t":2005.183,"v":17.522},{"s":"NCEP","t":2005.216,"v":17.506},{"s":"NCEP","t":2005.253,"v":17.556},{"s":"NCEP","t":2005.290,"v":17.612},{"s":"NCEP","t":2005.327,"v":17.578},{"s":"NCEP","t":2005.364,"v":17.536},{"s":"NCEP","t":2005.395,"v":17.612},{"s":"NCEP","t":2005.428,"v":17.713},{"s":"NCEP","t":2005.465,"v":17.752},{"s":"NCEP","t":2005.502,"v":17.771},{"s":"NCEP","t":2005.539,"v":17.752},{"s":"NCEP","t":2005.566,"v":17.695},{"s":"NCEP","t":2005.594,"v":17.612},{"s":"NCEP","t":2005.622,"v":17.545},{"s":"NCEP","t":2005.668,"v":17.511},{"s":"NCEP","t":2005.705,"v":17.455},{"s":"NCEP","t":2005.742,"v":17.394},{"s":"NCEP","t":2005.778,"v":17.478},{"s":"NCEP","t":2005.815,"v":17.513},{"s":"NCEP","t":2005.852,"v":17.478},{"s":"NCEP","t":2005.889,"v":17.433},{"s":"NCEP","t":2005.930,"v":17.413},{"s":"NCEP","t":2005.963,"v":17.478},{"s":"NCEP","t":2006.000,"v":17.612},{"s":"NCEP","t":2006.036,"v":17.724},{"s":"NCEP","t":2006.070,"v":17.757},{"s":"NCEP","t":2006.101,"v":17.657},{"s":"NCEP","t":2006.138,"v":17.500},{"s":"NCEP","t":2006.184,"v":17.388},{"s":"NCEP","t":2006.225,"v":17.332},{"s":"NCEP","t":2006.258,"v":17.355},{"s":"NCEP","t":2006.295,"v":17.371},{"s":"NCEP","t":2006.332,"v":17.360},{"s":"NCEP","t":2006.368,"v":17.332},{"s":"NCEP","t":2006.396,"v":17.411},{"s":"NCEP","t":2006.424,"v":17.556},{"s":"NCEP","t":2006.451,"v":17.724},{"s":"NCEP","t":2006.488,"v":17.841},{"s":"NCEP","t":2006.516,"v":17.813},{"s":"NCEP","t":2006.553,"v":17.724},{"s":"NCEP","t":2006.599,"v":17.612},{"s":"NCEP","t":2006.636,"v":17.584},{"s":"NCEP","t":2006.673,"v":17.554},{"s":"NCEP","t":2006.710,"v":17.556},{"s":"NCEP","t":2006.747,"v":17.587},{"s":"NCEP","t":2006.792,"v":17.573},{"s":"NCEP","t":2006.820,"v":17.562},{"s":"NCEP","t":2006.839,"v":17.556},{"s":"NCEP","t":2006.866,"v":17.634},{"s":"NCEP","t":2006.903,"v":17.836},{"s":"NCEP","t":2006.940,"v":18.003},{"s":"NCEP","t":2006.977,"v":18.115},{"s":"NCEP","t":2006.995,"v":18.134},{"s":"NCEP","t":2007.023,"v":18.126},{"s":"NCEP","t":2007.051,"v":18.003},{"s":"NCEP","t":2007.087,"v":17.813},{"s":"NCEP","t":2007.124,"v":17.701},{"s":"NCEP","t":2007.152,"v":17.634},{"s":"NCEP","t":2007.189,"v":17.612},{"s":"NCEP","t":2007.216,"v":17.595},{"s":"NCEP","t":2007.239,"v":17.584},{"s":"NCEP","t":2007.272,"v":17.640},{"s":"NCEP","t":2007.299,"v":17.651},{"s":"NCEP","t":2007.327,"v":17.645},{"s":"NCEP","t":2007.364,"v":17.701},{"s":"NCEP","t":2007.401,"v":17.713},{"s":"NCEP","t":2007.429,"v":17.729},{"s":"NCEP","t":2007.465,"v":17.757},{"s":"NCEP","t":2007.493,"v":17.724},{"s":"NCEP","t":2007.530,"v":17.679},{"s":"NCEP","t":2007.567,"v":17.634},{"s":"NCEP","t":2007.604,"v":17.584},{"s":"NCEP","t":2007.641,"v":17.562},{"s":"NCEP","t":2007.677,"v":17.522},{"s":"NCEP","t":2007.714,"v":17.466},{"s":"NCEP","t":2007.742,"v":17.455},{"s":"NCEP","t":2007.770,"v":17.450},{"s":"NCEP","t":2007.806,"v":17.466},{"s":"NCEP","t":2007.834,"v":17.500},{"s":"NCEP","t":2007.871,"v":17.517},{"s":"NCEP","t":2007.899,"v":17.567},{"s":"NCEP","t":2007.936,"v":17.634},{"s":"NCEP","t":2007.972,"v":17.653},{"s":"NCEP","t":2008.000,"v":17.645},{"s":"NCEP","t":2008.028,"v":17.589},{"s":"NCEP","t":2008.065,"v":17.510},{"s":"NCEP","t":2008.101,"v":17.445},{"s":"NCEP","t":2008.130,"v":17.370},{"s":"NCEP","t":2008.157,"v":17.299},{"s":"NCEP","t":2008.184,"v":17.209},{"s":"NCEP","t":2008.208,"v":17.178},{"s":"NCEP","t":2008.240,"v":17.192},{"s":"NCEP","t":2008.267,"v":17.198},{"s":"NCEP","t":2008.304,"v":17.187},{"s":"NCEP","t":2008.332,"v":17.164},{"s":"NCEP","t":2008.360,"v":17.152},{"s":"NCEP","t":2008.382,"v":17.164},{"s":"NCEP","t":2008.406,"v":17.276},{"s":"NCEP","t":2008.433,"v":17.377},{"s":"NCEP","t":2008.461,"v":17.405},{"s":"NCEP","t":2008.498,"v":17.408},{"s":"NCEP","t":2008.535,"v":17.405},{"s":"NCEP","t":2008.572,"v":17.388},{"s":"NCEP","t":2008.618,"v":17.355},{"s":"NCEP","t":2008.664,"v":17.310},{"s":"NCEP","t":2008.706,"v":17.287},{"s":"NCEP","t":2008.738,"v":17.343},{"s":"NCEP","t":2008.774,"v":17.433},{"s":"NCEP","t":2008.811,"v":17.545},{"s":"NCEP","t":2008.839,"v":17.584},{"s":"NCEP","t":2008.867,"v":17.567},{"s":"NCEP","t":2008.903,"v":17.573},{"s":"NCEP","t":2008.940,"v":17.595},{"s":"NCEP","t":2008.986,"v":17.606},{"s":"NCEP","t":2009.023,"v":17.617},{"s":"NCEP","t":2009.060,"v":17.634},{"s":"NCEP","t":2009.093,"v":17.660},{"s":"NCEP","t":2009.125,"v":17.634},{"s":"NCEP","t":2009.152,"v":17.556},{"s":"NCEP","t":2009.180,"v":17.455},{"s":"NCEP","t":2009.217,"v":17.377},{"s":"NCEP","t":2009.254,"v":17.338},{"s":"NCEP","t":2009.278,"v":17.319},{"s":"NCEP","t":2009.309,"v":17.340},{"s":"NCEP","t":2009.346,"v":17.390},{"s":"NCEP","t":2009.383,"v":17.475},{"s":"NCEP","t":2009.420,"v":17.550},{"s":"NCEP","t":2009.451,"v":17.585},{"s":"NCEP","t":2009.484,"v":17.700},{"s":"NCEP","t":2009.512,"v":17.850},{"s":"NCEP","t":2009.530,"v":17.914},{"s":"NCEP","t":2009.552,"v":17.925},{"s":"NCEP","t":2009.576,"v":17.896},{"s":"NCEP","t":2009.613,"v":17.850},{"s":"NCEP","t":2009.641,"v":17.810},{"s":"NCEP","t":2009.669,"v":17.804},{"s":"NCEP","t":2009.693,"v":17.806},{"s":"NCEP","t":2009.715,"v":17.770},{"s":"NCEP","t":2009.742,"v":17.666},{"s":"NCEP","t":2009.770,"v":17.551},{"s":"NCEP","t":2009.788,"v":17.502},{"s":"NCEP","t":2009.807,"v":17.510},{"s":"NCEP","t":2009.835,"v":17.643},{"s":"NCEP","t":2009.868,"v":17.735},{"s":"NCEP","t":2009.890,"v":17.741},{"s":"NCEP","t":2009.917,"v":17.706},{"s":"NCEP","t":2009.945,"v":17.675},{"s":"NCEP","t":2009.973,"v":17.677},{"s":"NCEP","t":2010.000,"v":17.758},{"s":"NCEP","t":2010.028,"v":17.873},{"s":"NCEP","t":2010.056,"v":17.937},{"s":"NCEP","t":2010.092,"v":17.977},{"s":"NCEP","t":2010.129,"v":18.017},{"s":"NCEP","t":2010.166,"v":18.052},{"s":"NCEP","t":2010.207,"v":18.071},{"s":"NCEP","t":2010.240,"v":18.052},{"s":"NCEP","t":2010.277,"v":18.029},{"s":"NCEP","t":2010.314,"v":18.046},{"s":"NCEP","t":2010.351,"v":18.060},{"s":"NCEP","t":2010.388,"v":18.052},{"s":"NCEP","t":2010.424,"v":18.021},{"s":"NCEP","t":2010.443,"v":18.014},{"s":"NCEP","t":2010.458,"v":18.025},{"s":"NCEP","t":2010.471,"v":18.000},{"s":"NCEP","t":2010.480,"v":17.977}
    ],
    "trend": [
      {"s":"JMR","slope":"Slope = 0.0907 mm/year [L.S.R. = 0.0503]","t":2003.275,"v":17.141},
      {"s":"JMR","slope":"Slope = 0.0907 mm/year [L.S.R. = 0.0503]","t":2010.49,"v":17.206},
      {"s":"MWR","slope":"Slope = -0.217 mm/year [L.S.R. = 0.0491]","t":2003.275,"v":17.125},
      {"s":"MWR","slope":"Slope = -0.217 mm/year [L.S.R. = 0.0491]","t":2010.49,"v":16.968},
      {"s":"ECMWF","slope":"Slope = 0.392 mm/year [L.S.R. = 0.0365]","t":2003.275,"v":17.703},
      {"s":"ECMWF","slope":"Slope = 0.392 mm/year [L.S.R. = 0.0365]","t":2010.49,"v":17.985},
      {"s":"NCEP","slope":"Slope = 0.534 mm/year [L.S.R. = 0.0569]","t":2003.275,"v":17.352},
      {"s":"NCEP","slope":"Slope = 0.534 mm/year [L.S.R. = 0.0569]","t":2010.49,"v":17.738}
    ],
    "ellipse": [
      {"i":0,"t":2011.121,"v":17.066},{"i":1,"t":2010.979,"v":17.211},{"i":2,"t":2010.561,"v":17.347},{"i":3,"t":2009.897,"v":17.463},{"i":4,"t":2009.032,"v":17.552},{"i":5,"t":2008.024,"v":17.608},{"i":6,"t":2006.943,"v":17.627},{"i":7,"t":2005.862,"v":17.608},{"i":8,"t":2004.854,"v":17.552},{"i":9,"t":2003.989,"v":17.463},{"i":10,"t":2003.325,"v":17.347},{"i":11,"t":2002.907,"v":17.211},{"i":12,"t":2002.765,"v":17.066},{"i":13,"t":2002.907,"v":16.921},{"i":14,"t":2003.325,"v":16.786},{"i":15,"t":2003.989,"v":16.669},{"i":16,"t":2004.854,"v":16.580},{"i":17,"t":2005.862,"v":16.524},{"i":18,"t":2006.943,"v":16.505},{"i":19,"t":2008.024,"v":16.524},{"i":20,"t":2009.032,"v":16.580},{"i":21,"t":2009.897,"v":16.669},{"i":22,"t":2010.561,"v":16.786},{"i":23,"t":2010.979,"v":16.921}
    ]
  },
  "layer": [
    {
      "data": {"name": "series"},
      "mark": {"type": "line", "strokeWidth": 1.5, "interpolate": "monotone"},
      "encoding": {
        "x": {
          "field": "t", "type": "quantitative",
          "scale": {"domain": [2003, 2010.5], "nice": false, "zero": false},
          "axis": {
            "orient": "bottom",
            "values": [2003.5,2004,2004.5,2005,2005.5,2006,2006.5,2007,2007.5,2008,2008.5,2009,2009.5,2010],
            "labelExpr": "datum.value % 2 == 0 ? format(datum.value, 'd') : ''",
            "tickSize": {"condition": {"test": "datum.value % 2 == 0", "value": -22}, "value": -12},
            "tickColor": "black", "tickWidth": 2,
            "domainColor": "black", "domainWidth": 3,
            "labelPadding": 42,
            "labelFont": "DejaVu Sans Condensed", "labelFontSize": 32, "labelColor": "black",
            "labelOverlap": false, "labelFlush": false,
            "grid": true, "gridColor": "#bbbbbb", "gridDash": [5, 4], "gridWidth": 1.2,
            "gridOpacity": {"condition": {"test": "datum.value % 2 == 0", "value": 1}, "value": 0},
            "title": "Years",
            "titleFont": "DejaVu Sans Condensed", "titleFontSize": 31, "titleFontWeight": "normal", "titleColor": "black",
            "titlePadding": 9
          }
        },
        "y": {
          "field": "v", "type": "quantitative",
          "scale": {"domain": [16.5, 18.7], "nice": false, "zero": false},
          "axis": {
            "orient": "left",
            "values": [16.5,16.6,16.7,16.8,16.9,17.0,17.1,17.2,17.3,17.4,17.5,17.6,17.7,17.8,17.9,18.0,18.1,18.2,18.3,18.4,18.5,18.6],
            "labelExpr": "abs(datum.value*2 - round(datum.value*2)) < 0.01 ? format(datum.value, '.1f') : ''",
            "tickSize": {"condition": {"test": "abs(datum.value*2 - round(datum.value*2)) < 0.01", "value": -21}, "value": -12},
            "tickColor": "black", "tickWidth": 2,
            "domainColor": "black", "domainWidth": 3,
            "labelPadding": 32,
            "labelFont": "DejaVu Sans", "labelFontSize": 24, "labelFontWeight": "bold", "labelColor": "black",
            "labelOverlap": false, "labelFlush": false,
            "grid": true, "gridColor": "#bbbbbb", "gridDash": [5, 4], "gridWidth": 1.2,
            "gridOpacity": {"condition": {"test": "abs(datum.value*2 - round(datum.value*2)) < 0.01", "value": 1}, "value": 0},
            "title": "Wet Tropospheric Correction (cm)",
            "titleFont": "DejaVu Sans Condensed", "titleFontSize": 33, "titleFontWeight": "normal", "titleColor": "black",
            "titlePadding": 48
          }
        },
        "color": {
          "field": "s", "type": "nominal",
          "scale": {"domain": ["JMR", "MWR", "ECMWF", "NCEP"], "range": ["#ff4d4d", "#2020ff", "#111111", "#1cff1c"]},
          "legend": {
            "orient": "none", "legendX": 36, "legendY": 5, "title": null,
            "symbolType": "stroke", "symbolSize": 4624, "symbolStrokeWidth": 1.5,
            "labelFont": "DejaVu Sans", "labelFontSize": 29.5, "labelColor": "black", "labelOffset": 33,
            "rowPadding": 21, "padding": 0, "labelLimit": 0
          }
        }
      }
    },
    {
      "data": {"name": "trend"},
      "mark": {"type": "line", "strokeWidth": 1.8},
      "encoding": {
        "x": {
          "field": "t", "type": "quantitative",
          "scale": {"domain": [2003, 2010.5], "nice": false, "zero": false},
          "axis": {
            "orient": "top",
            "values": [2003.5,2004,2004.5,2005,2005.5,2006,2006.5,2007,2007.5,2008,2008.5,2009,2009.5,2010],
            "labels": false, "grid": false, "title": null,
            "tickSize": {"condition": {"test": "datum.value % 2 == 0", "value": -22}, "value": -12},
            "tickColor": "black", "tickWidth": 2,
            "domainColor": "black", "domainWidth": 3
          }
        },
        "y": {
          "field": "v", "type": "quantitative",
          "scale": {"domain": [16.5, 18.7], "nice": false, "zero": false},
          "axis": {
            "orient": "right",
            "values": [16.6,16.7,16.8,16.9,17.0,17.1,17.2,17.3,17.4,17.5,17.6,17.7,17.8,17.9,18.0,18.1,18.2,18.3,18.4,18.5,18.6],
            "labels": false, "grid": false, "title": null,
            "tickSize": {"condition": {"test": "abs(datum.value*2 - round(datum.value*2)) < 0.01", "value": -21}, "value": -12},
            "tickColor": "black", "tickWidth": 2,
            "domainColor": "black", "domainWidth": 3
          }
        },
        "color": {
          "field": "s", "type": "nominal",
          "scale": {"domain": ["JMR", "MWR", "ECMWF", "NCEP"], "range": ["#ff4d4d", "#2020ff", "#111111", "#1cff1c"]},
          "legend": {
            "orient": "none", "legendX": 36, "legendY": 5, "title": null,
            "symbolType": "stroke", "symbolSize": 4624, "symbolStrokeWidth": 1.5,
            "labelFont": "DejaVu Sans", "labelFontSize": 29.5, "labelColor": "black", "labelOffset": 33,
            "rowPadding": 21, "padding": 0, "labelLimit": 0
          }
        },
        "strokeDash": {
          "field": "slope", "type": "nominal",
          "scale": {
            "domain": ["Slope = 0.0907 mm/year [L.S.R. = 0.0503]", "Slope = -0.217 mm/year [L.S.R. = 0.0491]", "Slope = 0.392 mm/year [L.S.R. = 0.0365]", "Slope = 0.534 mm/year [L.S.R. = 0.0569]"],
            "range": [[1, 0], [1, 0], [1, 0], [1, 0]]
          },
          "legend": {
            "orient": "none", "legendX": 258, "legendY": 5, "title": null,
            "symbolType": "stroke", "symbolSize": 4624, "symbolStrokeWidth": 0, "symbolOpacity": 0,
            "labelFont": "DejaVu Sans", "labelFontSize": 29.5, "labelColor": "black", "labelOffset": 0,
            "rowPadding": 21, "padding": 0, "labelLimit": 0
          }
        }
      }
    },
    {
      "data": {"name": "ellipse"},
      "mark": {"type": "line", "interpolate": "cardinal-closed", "color": "#bf0000", "strokeWidth": 6, "clip": false},
      "encoding": {
        "x": {"field": "t", "type": "quantitative", "scale": {"domain": [2003, 2010.5], "nice": false, "zero": false}, "axis": null},
        "y": {"field": "v", "type": "quantitative", "scale": {"domain": [16.5, 18.7], "nice": false, "zero": false}, "axis": null},
        "order": {"field": "i", "type": "quantitative"}
      }
    }
  ],
  "resolve": {"axis": {"x": "independent", "y": "independent"}}
}
